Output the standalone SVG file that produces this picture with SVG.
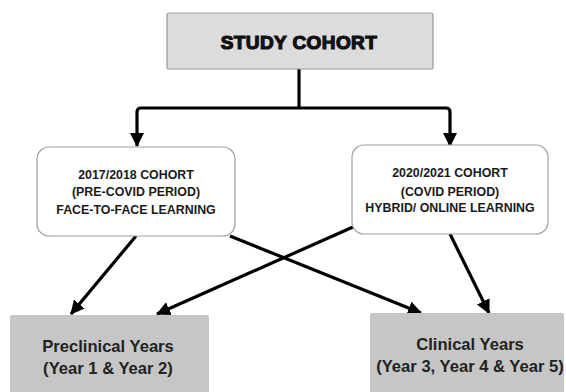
<svg xmlns="http://www.w3.org/2000/svg" width="566" height="392" viewBox="0 0 566 392">
<defs>
<style>
.top{fill:#dcdcdc;stroke:#9a9a9a;stroke-width:1.2}
.mid{fill:#ffffff;stroke:#a0a0a0;stroke-width:1.2}
.bot{fill:#c6c6c6;stroke:none}
.t1{font-family:"Liberation Sans",Arial,sans-serif;font-weight:900;font-size:19px;fill:#111;text-anchor:middle;stroke:#111;stroke-width:1.2;letter-spacing:0.4px}
.t2{font-family:"Liberation Sans",Arial,sans-serif;font-weight:bold;font-size:12.4px;fill:#1a1a1a;text-anchor:middle}
.t3{font-family:"Liberation Sans",Arial,sans-serif;font-weight:bold;font-size:16.6px;fill:#222;text-anchor:middle}
.c{fill:none;stroke:#000;stroke-width:3.2;stroke-linejoin:round;stroke-linecap:butt}
</style>
<marker id="ah" markerUnits="userSpaceOnUse" markerWidth="16" markerHeight="16" viewBox="0 0 16 16" refX="13" refY="8" orient="auto">
<path d="M0,1 L14,8 L0,15 Z" fill="#000"/>
</marker>
</defs>
<rect width="566" height="392" fill="#fff"/>
<g id="connectors">
<path class="c" d="M299,69 V108"/>
<path class="c" d="M299,108 H141 Q137,108 137,112 V146" marker-end="url(#ah)"/>
<path class="c" d="M299,108 H446 Q450,108 450,112 V146" marker-end="url(#ah)"/>
<path class="c" d="M136,236 L71,314" marker-end="url(#ah)"/>
<path class="c" d="M230,236 L421,313" marker-end="url(#ah)"/>
<path class="c" d="M353,227 L157,314" marker-end="url(#ah)"/>
<path class="c" d="M450,234 L489,313" marker-end="url(#ah)"/>
</g>
<g id="study-cohort">
<rect class="top" x="167" y="13" width="266" height="56" rx="2"/>
<text class="t1" x="299" y="49">STUDY COHORT</text>
</g>
<g id="cohort-2017">
<rect class="mid" x="37" y="147" width="198" height="89" rx="12"/>
<text class="t2" x="136" y="179">2017/2018 COHORT</text>
<text class="t2" x="136" y="196">(PRE-COVID PERIOD)</text>
<text class="t2" x="136" y="214">FACE-TO-FACE LEARNING</text>
</g>
<g id="cohort-2020">
<rect class="mid" x="352" y="145" width="196" height="89" rx="12"/>
<text class="t2" x="450" y="177">2020/2021 COHORT</text>
<text class="t2" x="450" y="196">(COVID PERIOD)</text>
<text class="t2" x="450" y="212">HYBRID/ ONLINE LEARNING</text>
</g>
<g id="preclinical">
<rect class="bot" x="10" y="315" width="199" height="80" rx="2"/>
<text class="t3" x="108" y="352">Preclinical Years</text>
<text class="t3" x="108" y="374">(Year 1 &amp; Year 2)</text>
</g>
<g id="clinical">
<rect class="bot" x="370" y="313" width="194" height="82" rx="2"/>
<text class="t3" x="470" y="350">Clinical Years</text>
<text class="t3" x="470" y="372">(Year 3, Year 4 &amp; Year 5)</text>
</g>
</svg>
